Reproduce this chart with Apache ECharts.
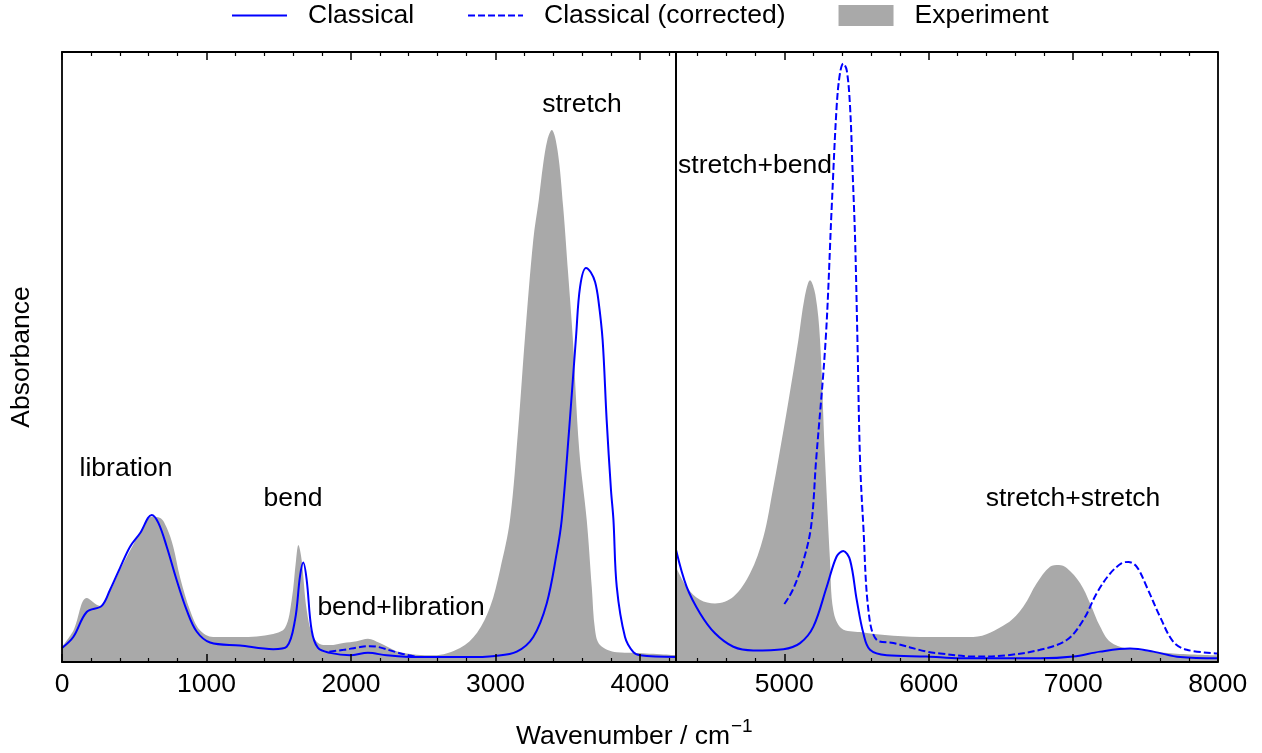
<!DOCTYPE html>
<html><head><meta charset="utf-8">
<script src="https://cdn.jsdelivr.net/npm/echarts@6/dist/echarts.min.js"></script>
<style>html,body{margin:0;padding:0;background:#fff}#c{width:1262px;height:753px}</style>
</head><body><div id="c"></div>
<script>
const FONT = 'Liberation Sans, Arial, Helvetica, sans-serif';
const FS = 26.5;

// ---------------- data (wavenumber / cm^-1, absorbance in arbitrary units) ----------------
// Left panel (0 - 4250)
const expLeftX = [0,80,171,263,330,401,492,560,621,680,725,770,817,886,955,1046,1232,1462,1544,1590,1620,1636,1659,1694,1740,1809,1878,1947,2040,2118,2200,2340,2570,2755,2873,2963,3032,3101,3157,3205,3262,3300,3330,3360,3390,3430,3469,3503,3535,3580,3632,3667,3690,3724,3840,3953,4250];
const expLeftY = [0.025,0.052,0.105,0.092,0.115,0.151,0.192,0.220,0.238,0.236,0.220,0.189,0.139,0.085,0.052,0.041,0.041,0.046,0.056,0.102,0.167,0.192,0.167,0.085,0.041,0.028,0.028,0.031,0.034,0.038,0.031,0.016,0.011,0.023,0.048,0.090,0.151,0.233,0.380,0.533,0.692,0.757,0.815,0.856,0.872,0.839,0.746,0.638,0.533,0.348,0.233,0.123,0.052,0.028,0.016,0.015,0.011];

const clsLeftX = [0,78,171,275,332,401,471,540,621,667,725,794,863,932,1025,1232,1462,1555,1613,1647,1670,1694,1728,1772,1855,1994,2118,2247,2455,2801,2998,3148,3262,3355,3424,3459,3510,3558,3586,3627,3660,3690,3713,3742,3770,3800,3817,3840,3897,3955,4001,4250];
const clsLeftY = [0.023,0.041,0.082,0.092,0.118,0.154,0.189,0.211,0.241,0.228,0.189,0.134,0.085,0.050,0.032,0.027,0.021,0.025,0.069,0.140,0.163,0.134,0.052,0.023,0.015,0.011,0.015,0.011,0.008,0.008,0.010,0.017,0.041,0.096,0.178,0.233,0.380,0.533,0.615,0.646,0.639,0.623,0.593,0.528,0.397,0.282,0.233,0.123,0.041,0.016,0.011,0.008];

const corLeftX = [1850,1950,2050,2130,2200,2300,2400,2470];
const corLeftY = [0.017,0.020,0.024,0.026,0.024,0.017,0.011,0.008];

// Right panel (4250 - 8000), magnified scale
const expRightX = [4250,4324,4416,4520,4647,4762,4855,4924,4958,5030,5097,5140,5178,5215,5247,5282,5316,5339,5397,5524,5755,6000,6308,6539,6655,6747,6839,6900,6955,7048,7117,7186,7255,7370,7693,8000];
const expRightY = [0.156,0.123,0.102,0.096,0.107,0.145,0.205,0.287,0.331,0.430,0.528,0.597,0.626,0.602,0.528,0.331,0.167,0.085,0.055,0.049,0.043,0.041,0.041,0.063,0.091,0.129,0.156,0.159,0.154,0.129,0.096,0.058,0.033,0.022,0.014,0.011];

const clsRightX = [4250,4324,4416,4520,4647,4785,4993,5109,5201,5293,5362,5408,5455,5501,5547,5593,5709,5986,6216,6770,7000,7186,7393,7555,7740,8000];
const clsRightY = [0.184,0.123,0.080,0.047,0.025,0.019,0.021,0.031,0.058,0.123,0.173,0.182,0.167,0.102,0.047,0.020,0.011,0.009,0.006,0.006,0.009,0.017,0.022,0.017,0.008,0.006];

const corRightX = [5000,5058,5127,5185,5220,5286,5328,5362,5385,5408,5432,5455,5473,5490,5506,5524,5547,5582,5640,5755,5986,6078,6308,6539,6770,6955,7070,7163,7255,7336,7382,7440,7509,7601,7693,7786,8000];
const corRightY = [0.095,0.118,0.162,0.222,0.331,0.528,0.746,0.910,0.965,0.981,0.970,0.910,0.801,0.692,0.528,0.331,0.222,0.085,0.036,0.031,0.017,0.014,0.009,0.011,0.020,0.036,0.069,0.113,0.145,0.162,0.164,0.156,0.123,0.074,0.033,0.020,0.014];

// tick positions / labels
const majorLeft = [0,1000,2000,3000,4000];
const minorLeft = [200,400,600,800,1200,1400,1600,1800,2200,2400,2600,2800,3200,3400,3600,3800,4200];
const majorRight = [5000,6000,7000,8000];
const minorRight = [4400,4600,4800,5200,5400,5600,5800,6200,6400,6600,6800,7200,7400,7600,7800];

const seriesNames = ['Classical','Classical (corrected)','Experiment'];
const annotations = [
  {text:'libration', x:126, y:469},
  {text:'bend', x:293, y:499},
  {text:'bend+libration', x:401, y:608},
  {text:'stretch', x:582, y:105},
  {text:'stretch+bend', x:755, y:166},
  {text:'stretch+stretch', x:1073, y:499}
];

// ---------------- chart ----------------
const zip = (xs, ys) => xs.map((x, i) => [x, ys[i]]);
const BLACK = '#000';
const SMOOTH = 0.35;

function xAxesFor(gridIndex, min, max, major, minor) {
  const base = {type:'value', gridIndex, min, max, z:5, splitLine:{show:false}};
  const lineOn = {show:true, onZero:false, lineStyle:{color:BLACK, width:1.8}};
  const lineOff = {show:false, onZero:false};
  return [
    Object.assign({}, base, {position:'bottom', axisLine:lineOn,
      axisTick:{show:true, inside:true, length:8, customValues:major, lineStyle:{color:BLACK, width:1.5}},
      axisLabel:{show:true, customValues:major, margin:9, fontSize:FS, color:BLACK, fontFamily:FONT,
        formatter: v => String(v)}}),
    Object.assign({}, base, {position:'bottom', axisLine:lineOff,
      axisTick:{show:true, inside:true, length:4, customValues:minor, lineStyle:{color:BLACK, width:1.2}},
      axisLabel:{show:false}}),
    Object.assign({}, base, {position:'top', axisLine:lineOn,
      axisTick:{show:true, inside:true, length:8, customValues:major, lineStyle:{color:BLACK, width:1.5}},
      axisLabel:{show:false}}),
    Object.assign({}, base, {position:'top', axisLine:lineOff,
      axisTick:{show:true, inside:true, length:4, customValues:minor, lineStyle:{color:BLACK, width:1.2}},
      axisLabel:{show:false}})
  ];
}
function yAxesFor(gridIndex) {
  const base = {type:'value', gridIndex, min:0, max:1, z:5, splitLine:{show:false},
    axisTick:{show:false}, axisLabel:{show:false},
    axisLine:{show:true, onZero:false, lineStyle:{color:BLACK, width:1.8}}};
  return [Object.assign({}, base, {position:'left'}), Object.assign({}, base, {position:'right'})];
}

function blueLine(name, xs, ys, xi, yi, dashed) {
  return {type:'line', name, xAxisIndex:xi, yAxisIndex:yi, data:zip(xs, ys),
    symbol:'none', smooth:SMOOTH, z:3,
    color:'#0000ff', itemStyle:{color:'#0000ff'},
    lineStyle:{color:'#0000ff', width:2, type: dashed ? [7,3] : 'solid'}};
}
function greyArea(xs, ys, xi, yi) {
  return {type:'line', name:seriesNames[2], xAxisIndex:xi, yAxisIndex:yi, data:zip(xs, ys),
    symbol:'none', smooth:SMOOTH, z:1,
    color:'#a9a9a9', itemStyle:{color:'#a9a9a9'},
    lineStyle:{width:0, color:'#a9a9a9'}, areaStyle:{color:'#a9a9a9', opacity:1}};
}

const textEl = (t, x, y, size, align, extra) => Object.assign({type:'text', x, y, z:10,
  style:{text:t, font: size + 'px ' + FONT, fill:BLACK, textAlign: align || 'center', textVerticalAlign:'middle'}}, extra || {});

const option = {
  animation:false,
  backgroundColor:'#fff',
  textStyle:{fontFamily:FONT},
  grid:[
    {left:62, top:52, width:614, height:610, containLabel:false},
    {left:676, top:52, width:541.7, height:610, containLabel:false}
  ],
  legend:{
    top:2, left:231, padding:0, itemWidth:55, itemHeight:21, itemGap:53,
    data:[
      {name:seriesNames[0], itemStyle:{opacity:0}},
      {name:seriesNames[1], itemStyle:{opacity:0}},
      {name:seriesNames[2], icon:'rect'}
    ],
    textStyle:{fontSize:FS, color:BLACK, fontFamily:FONT, padding:[0,0,0,16]}
  },
  xAxis: xAxesFor(0, 0, 4250, majorLeft, minorLeft).concat(xAxesFor(1, 4250, 8000, majorRight, minorRight)),
  yAxis: yAxesFor(0).concat(yAxesFor(1)),
  series:[
    greyArea(expLeftX, expLeftY, 0, 0),
    greyArea(expRightX, expRightY, 4, 2),
    blueLine(seriesNames[1], corLeftX, corLeftY, 0, 0, true),
    blueLine(seriesNames[1], corRightX, corRightY, 4, 2, true),
    blueLine(seriesNames[0], clsLeftX, clsLeftY, 0, 0, false),
    blueLine(seriesNames[0], clsRightX, clsRightY, 4, 2, false)
  ],
  graphic: annotations.map(a => textEl(a.text, a.x, a.y, FS)).concat([
    textEl('Absorbance', 22, 357, FS, 'center', {rotation: Math.PI / 2}),
    textEl('Wavenumber / cm', 516, 737, FS, 'left'),
    textEl('\u22121', 731, 727, 19, 'left')
  ])
};

const chart = echarts.init(document.getElementById('c'), null, {renderer:'canvas'});
chart.setOption(option);
</script>
</body></html>
